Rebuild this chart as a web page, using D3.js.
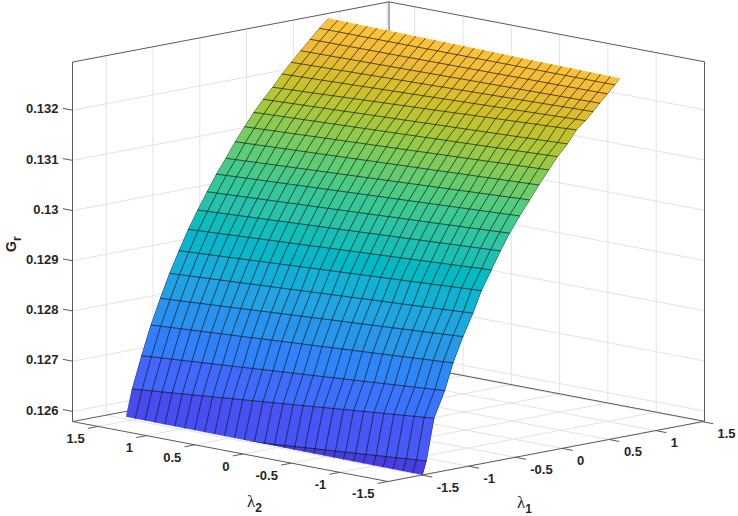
<!DOCTYPE html>
<html><head><meta charset="utf-8">
<style>html,body{margin:0;padding:0;background:#fff}svg{display:block}text{font-family:"Liberation Sans",Arial,sans-serif}</style>
<script src="https://cdn.jsdelivr.net/npm/d3@7/dist/d3.min.js"></script>
</head><body><svg id="c" width="738" height="516"></svg>
<script>
// axis ticks
const l1Ticks=[-1.5,-1,-0.5,0,0.5,1,1.5];
const l2Ticks=[1.5,1,0.5,0,-0.5,-1,-1.5];
const zTicks=[0.126,0.127,0.128,0.129,0.13,0.131,0.132];
const zTickLabels=["0.126","0.127","0.128","0.129","0.13","0.131","0.132"];
const l2Range=[1.5,-1.5];
const columns=30;
// mesh lines, from the far edge of the surface to the near edge
const l1Left=[0.6,0.5,0.4,0.3,0.2,0.1,0,-0.1,-0.2,-0.3,-0.4,-0.5,-0.6,-0.7,-0.8,-0.9,-1,-1.1,-1.2,-1.3,-1.4,-1.5,-1.6,-1.7];
const zLeft=[0.133058,0.132893,0.132709,0.132516,0.132321,0.132124,0.131895,0.131691,0.131466,0.131215,0.130952,0.130658,0.130379,0.130062,0.129733,0.129385,0.128994,0.128578,0.128116,0.12762,0.127044,0.126415,0.125681,0.125];
const l1Right=[0.619,0.565,0.487,0.405,0.333,0.252,0.156,0.06,-0.047,-0.14,-0.244,-0.343,-0.45,-0.557,-0.656,-0.752,-0.859,-0.949,-1.056,-1.162,-1.251,-1.365,-1.447,-1.55];
const zRight=[0.13295,0.132836,0.132684,0.132528,0.132386,0.132235,0.132084,0.131839,0.131624,0.131393,0.13113,0.130867,0.130586,0.130279,0.129962,0.129618,0.129243,0.128825,0.128397,0.127911,0.127391,0.126881,0.126058,0.125419];
// surface rim at the near edge, where it is cut off: [lambda1, lambda2, z]
const rimNearRight=[-1.489,-1.5,0.125795];
const rimNearLeft=[-1.563,1.5,0.125886];
// colormap
const parula=[[.2422,.1504,.6603],[.2647,.1978,.7952],[.2783,.2559,.8991],[.2810,.3228,.9579],[.2699,.3892,.9906],[.2206,.4603,.9973],[.1786,.5289,.9682],[.1540,.5902,.9218],[.1248,.6459,.8883],[.0689,.6948,.8394],[.0067,.7312,.7660],[.1408,.7584,.6842],[.2161,.7843,.5923],[.3406,.8008,.4789],[.5044,.7993,.3480],[.6720,.7793,.2227],[.8203,.7498,.1535],[.9393,.7288,.2100],[.9970,.7659,.2199],[.9892,.8085,.1884],[.9626,.8906,.1500],[.9769,.9839,.0805]];

const L1LIM=[-1.86,1.5214],L2LIM=[-1.5,1.766],ZLIM=[0.125797,0.132958];
const originX=388,originY=481.5;
const x1=d3.scaleLinear(L1LIM,[0,316.5]),y1=d3.scaleLinear(L1LIM,[0,-60.2]);
const x2=d3.scaleLinear(L2LIM,[0,-315.5]),y2=d3.scaleLinear(L2LIM,[0,-59.93]);
const yz=d3.scaleLinear(ZLIM,[0,-359.5]);
const proj=(a,b,z)=>[originX+x1(a)+x2(b),originY+y1(a)+y2(b)+yz(z)];
const svg=d3.select("#c");
const line=d3.line();
const seg=(g,pts,stroke,w)=>g.append("path").attr("d",line(pts)).attr("fill","none").attr("stroke",stroke).attr("stroke-width",w);

// grid
const GRID="#e3e3e3",AX="#5a5a5a",TXT="#262626";
const grid=svg.append("g");
zTicks.forEach(z=>{
  seg(grid,[proj(L1LIM[0],L2LIM[1],z),proj(L1LIM[1],L2LIM[1],z)],GRID,1);
  seg(grid,[proj(L1LIM[1],L2LIM[1],z),proj(L1LIM[1],L2LIM[0],z)],GRID,1);
});
l1Ticks.forEach(a=>{
  seg(grid,[proj(a,L2LIM[1],ZLIM[0]),proj(a,L2LIM[1],ZLIM[1])],GRID,1);
  seg(grid,[proj(a,L2LIM[0],ZLIM[0]),proj(a,L2LIM[1],ZLIM[0])],GRID,1);
});
l2Ticks.forEach(b=>{
  seg(grid,[proj(L1LIM[1],b,ZLIM[0]),proj(L1LIM[1],b,ZLIM[1])],GRID,1);
  seg(grid,[proj(L1LIM[0],b,ZLIM[0]),proj(L1LIM[1],b,ZLIM[0])],GRID,1);
});

// box
const box=svg.append("g");
const [a0,a1]=L1LIM,[b0,b1]=L2LIM,[z0,z1]=ZLIM;
[[[a0,b1,z0],[a0,b1,z1]],[[a1,b0,z0],[a1,b0,z1]],[[a1,b1,z0],[a1,b1,z1]],
 [[a0,b1,z1],[a1,b1,z1]],[[a1,b1,z1],[a1,b0,z1]],
 [[a0,b1,z0],[a1,b1,z0]],[[a1,b1,z0],[a1,b0,z0]],
 [[a0,b1,z0],[a0,b0,z0]],[[a0,b0,z0],[a1,b0,z0]]]
 .forEach(([p,q])=>seg(box,[proj(...p),proj(...q)],AX,1));

// ticks and labels
const ticks=svg.append("g"),labels=svg.append("g").attr("font-size",13).attr("font-weight","bold").attr("fill",TXT);
zTicks.forEach((z,i)=>{
  const p=proj(a0,b1,z);
  seg(ticks,[p,proj(a0,b1+0.1,z)],AX,1);
  labels.append("text").attr("x",p[0]-14).attr("y",p[1]+3.2).attr("text-anchor","end").text(zTickLabels[i]);
});
l2Ticks.forEach(b=>{
  const p=proj(a0,b,z0);
  seg(ticks,[p,proj(a0-0.11,b,z0)],AX,1);
  labels.append("text").attr("x",p[0]-13.5).attr("y",p[1]+16.7).attr("text-anchor","end").text(b);
});
l1Ticks.forEach(a=>{
  const p=proj(a,b0,z0);
  seg(ticks,[p,proj(a,b0-0.11,z0)],AX,1);
  labels.append("text").attr("x",p[0]+15).attr("y",p[1]+16.7).attr("text-anchor","start").text(a);
});

// axis titles
function title(x,y,main,sub){
  const t=svg.append("text").attr("x",x).attr("y",y).attr("fill",TXT);
  t.append("tspan").attr("font-family","'Liberation Serif',serif").attr("font-size",17).text(main);
  t.append("tspan").attr("font-size",12).attr("font-weight","bold").attr("dy",5).text(sub);
}
title(247,507,"λ","2");
title(517,508,"λ","1");
const gr=svg.append("text").attr("transform","translate(16,252) rotate(-90)").attr("fill",TXT).attr("font-weight","bold");
gr.append("tspan").attr("font-size",14).text("G");
gr.append("tspan").attr("font-size",12).attr("dy",5).text("r");

// surface
const point=(j,k)=>{const t=k/columns;
  return proj(l1Left[j]+t*(l1Right[j]-l1Left[j]),d3.interpolateNumber(...l2Range)(t),zLeft[j]+t*(zRight[j]-zLeft[j]));};
const zAt=(j,k)=>{const t=k/columns;return zLeft[j]+t*(zRight[j]-zLeft[j]);};
const colorStops=parula.map(c=>d3.rgb(c[0]*255,c[1]*255,c[2]*255));
const tOf=d3.scaleLinear([0.12487,0.1344],[0,1]);
const cmap=d3.scaleLinear(parula.map((_,i)=>i/(parula.length-1)),colorStops).interpolate(d3.interpolateRgb);
const rows=d3.range(l1Left.length);
const outline=[point(0,0),point(0,columns)];
for(let j=1;j<=22;j++)outline.push(point(j,columns));
outline.push(proj(...rimNearRight),proj(...rimNearLeft));
for(let j=21;j>=1;j--)outline.push(point(j,0));
svg.append("clipPath").attr("id","rim").append("path").attr("d",line(outline)+"Z");
const surf=svg.append("g").attr("clip-path","url(#rim)");
rows.slice(0,-1).forEach(j=>{
  d3.range(columns).forEach(k=>{
    const mean=(zAt(j,k)+zAt(j,k+1)+zAt(j+1,k)+zAt(j+1,k+1))/4;
    const c=cmap(tOf(mean));
    surf.append("path").attr("d",line([point(j,k),point(j,k+1),point(j+1,k+1),point(j+1,k)])+"Z")
      .attr("fill",c).attr("stroke",c).attr("stroke-width",0.5);
  });
});
const MESH="rgba(15,15,15,0.85)";
rows.slice(1,-1).forEach(j=>seg(surf,d3.range(columns+1).map(k=>point(j,k)),MESH,0.8));
d3.range(columns+1).forEach(k=>seg(surf,rows.map(j=>point(j,k)),MESH,0.8));
</script></body></html>
